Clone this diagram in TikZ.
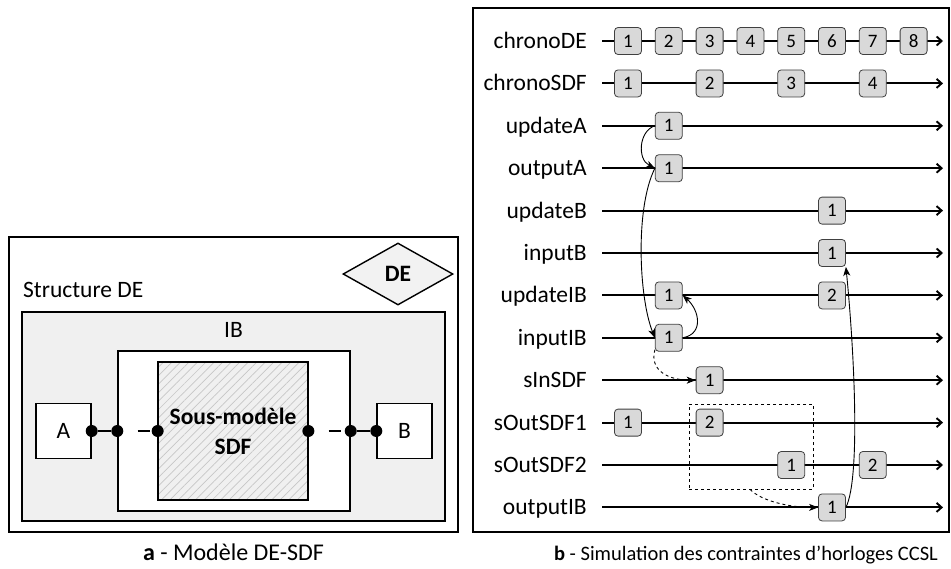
\documentclass[tikz,border=0pt]{standalone}
\usepackage{fontspec}
\setmainfont{Carlito}
\usetikzlibrary{arrows.meta,shapes.geometric,patterns.meta,positioning}

\begin{document}
\begin{tikzpicture}[
  x=1pt, y=-1pt,
  lbl/.style={font=\fontsize{23.5}{28}\selectfont, inner sep=0pt, text height=15pt, text depth=0pt},
  frame/.style={draw, line width=1.8pt},
  plainbox/.style={draw, line width=1.4pt, inner sep=0pt},
  port/.style={circle, fill=black, inner sep=0pt, minimum size=12pt},
  gapdash/.style={line width=1.4pt, dash pattern=on 0pt off 14pt on 12pt off 100pt},
  tick/.style={draw=black!75, fill=black!15, line width=0.8pt, rounded corners=3.5pt,
    minimum size=27pt, inner sep=0pt, font=\fontsize{19}{21}\selectfont},
  axis/.style={line width=1.9pt, -{Straight Barb[length=5pt,width=9pt]}},
  cause/.style={line width=0.9pt, -{Stealth[length=9pt,width=7pt,inset=2.5pt]}}
]
\useasboundingbox (0,0) rectangle (951,568);

\node[frame, fill=white, minimum width=449pt, minimum height=295pt] (sDE) at (233.5,384.5) {};
\node[lbl, anchor=west] (sDEtxt) at (23,290) {Structure DE};
\node[diamond, draw, line width=1.4pt, fill=black!5, minimum width=110pt, minimum height=62pt,
  inner sep=0pt, font=\fontsize{23.5}{28}\selectfont\bfseries] (DE) at (398,274) {DE};
\node[plainbox, fill=black!6, minimum width=423pt, minimum height=209pt] (IB) at (233.5,416.5) {};
\node[lbl] (IBtxt) at (233.5,330) {IB};
\node[plainbox, fill=white, minimum width=232pt, minimum height=160pt] (wrap) at (234,431) {};
\node[plainbox, preaction={fill=black!6}, pattern={Lines[angle=45,distance=6pt,line width=0.7pt]},
  pattern color=black!22, minimum width=150pt, minimum height=138pt] (sdf) at (233,431) {};
\node[lbl, font=\fontsize{23.5}{28}\selectfont\bfseries, align=center, text height=, text depth=]
  (sdftxt) at (233,431) {Sous-modèle\\[2pt]SDF};
\node[plainbox, fill=white, minimum size=55pt] (A) at (63.5,431) {};
\node[lbl] at (A) {A};
\node[plainbox, fill=white, minimum size=55pt] (B) at (404.5,431) {};
\node[lbl] at (B) {B};

\node[port] (pA) at (A.east) {};
\node[port] (pW1) at (wrap.west) {};
\node[port] (pS1) at (sdf.west) {};
\node[port] (pS2) at (sdf.east) {};
\node[port] (pW2) at (wrap.east) {};
\node[port] (pB) at (B.west) {};
\draw[line width=1.4pt] (pA) -- (pW1);
\draw[gapdash] (pW1) -- (pS1);
\draw[gapdash] (pS2) -- (pW2);
\draw[line width=1.4pt] (pW2) -- (pB);

\node[lbl, font=\fontsize{24}{28}\selectfont] (capA) at (233.5,553) {\textbf{a} - Modèle DE-SDF};

\draw[frame] (473,8) rectangle (949,532);
\foreach \nm [count=\i from 0] in {chronoDE,chronoSDF,updateA,outputA,updateB,inputB,
    updateIB,inputIB,sInSDF,sOutSDF1,sOutSDF2,outputIB}{
  \node[lbl, anchor=east] (L\i) at (587,41+42.4*\i) {\nm};
  \coordinate (e\i) at (943,41+42.4*\i);
  \draw[axis] ([xshift=15pt]L\i.east) -- (e\i);
}

\foreach \k in {1,...,8}
  \node[tick] (dE\k) at (628+40.8*\k-40.8,41) {\k};
\foreach \k in {1,...,4}
  \node[tick] (cS\k) at (628+81.6*\k-81.6,83.4) {\k};
\node[tick] (uA1) at (668.8,125.8) {1};
\node[tick] (oA1) at (668.8,168.2) {1};
\node[tick] (uB1) at (832,210.6) {1};
\node[tick] (iB1) at (832,253) {1};
\node[tick] (uIB1) at (668.8,295.4) {1};
\node[tick] (uIB2) at (832,295.4) {2};
\node[tick] (iIB1) at (668.8,337.8) {1};
\node[tick] (sIn1) at (709.6,380.2) {1};
\node[tick] (sOa1) at (628,422.6) {1};
\node[tick] (sOa2) at (709.6,422.6) {2};
\node[tick] (sOb1) at (791.2,465) {1};
\node[tick] (sOb2) at (872.8,465) {2};
\node[tick] (oIB1) at (832,507.4) {1};

\node[draw, dashed, line width=0.8pt, minimum width=124pt, minimum height=85pt] (win) at (751,446.5) {};

\draw[cause] (uA1.west) .. controls +(-16,5) and +(-18,-9) .. (oA1.west);
\draw[cause] (oA1.west) .. controls +(-20,40) and +(-16,-40) .. (iIB1.west);
\draw[cause] (iIB1.east) .. controls +(22,-4) and +(16,14) .. (uIB1.east);
\draw[cause, dashed] ([yshift=2pt]iIB1.south west) .. controls +(-6,22) and +(-25,0) .. (sIn1.west);
\draw[cause] (oIB1.east) .. controls +(15,-30) and +(8,80) .. (iB1.south east);
\draw[cause, dashed] ([xshift=-1pt]win.south) .. controls +(12,12) and +(-28,0) .. (oIB1.west);

\node[lbl, font=\fontsize{20.5}{24}\selectfont] (capB) at (746,553) {\textbf{b} - Simulation des contraintes d’horloges CCSL};
\end{tikzpicture}
\end{document}
